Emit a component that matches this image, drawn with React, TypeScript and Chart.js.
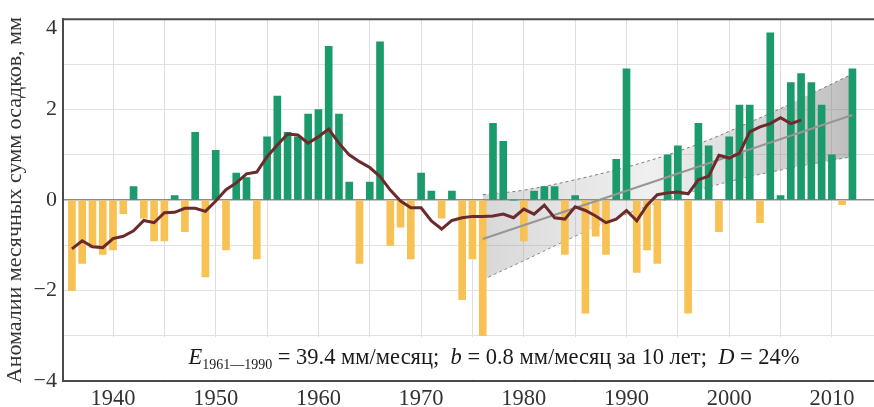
import React, { useEffect, useRef } from "react";
import { Chart, registerables } from "chart.js";

Chart.register(...registerables);

const years = [
  1936, 1937, 1938, 1939, 1940, 1941, 1942, 1943, 1944, 1945, 1946, 1947, 1948, 1949,
  1950, 1951, 1952, 1953, 1954, 1955, 1956, 1957, 1958, 1959, 1960, 1961, 1962, 1963,
  1964, 1965, 1966, 1967, 1968, 1969, 1970, 1971, 1972, 1973, 1974, 1975, 1976, 1977,
  1978, 1979, 1980, 1981, 1982, 1983, 1984, 1985, 1986, 1987, 1988, 1989, 1990, 1991,
  1992, 1993, 1994, 1995, 1996, 1997, 1998, 1999, 2000, 2001, 2002, 2003, 2004, 2005,
  2006, 2007, 2008, 2009, 2010, 2011, 2012,
];

const anomalies = [
  -2.0, -1.4, -1.05, -1.2, -1.1, -0.3, 0.3, -0.4, -0.9, -0.9, 0.1, -0.7, 1.5, -1.7,
  1.1, -1.1, 0.6, 0.5, -1.3, 1.4, 2.3, 1.5, 1.4, 1.9, 2.0, 3.4, 1.9, 0.4,
  -1.4, 0.4, 3.5, -1.0, -0.6, -1.3, 0.6, 0.2, -0.4, 0.2, -2.2, -1.3, -3.0, 1.7,
  1.3, 0.0, -0.9, 0.2, 0.3, 0.3, -1.2, 0.1, -2.5, -0.8, -1.2, 0.9, 2.9, -1.6,
  -1.1, -1.4, 1.0, 1.2, -2.5, 1.7, 1.2, -0.7, 1.4, 2.1, 2.1, -0.5, 3.7, 0.1,
  2.6, 2.8, 2.6, 2.1, 1.0, -0.1, 2.9,
];

const maYears = [
  1936, 1937, 1938, 1939, 1940, 1941, 1942, 1943, 1944, 1945, 1946, 1947, 1948, 1949,
  1950, 1951, 1952, 1953, 1954, 1955, 1956, 1957, 1958, 1959, 1960, 1961, 1962, 1963,
  1964, 1965, 1966, 1967, 1968, 1969, 1970, 1971, 1972, 1973, 1974, 1975, 1976, 1977,
  1978, 1979, 1980, 1981, 1982, 1983, 1984, 1985, 1986, 1987, 1988, 1989, 1990, 1991,
  1992, 1993, 1994, 1995, 1996, 1997, 1998, 1999, 2000, 2001, 2002, 2003, 2004, 2005,
  2006, 2007,
];

const maValues = [
  -1.08, -0.9, -1.03, -1.05, -0.85, -0.8, -0.68, -0.45, -0.5, -0.28, -0.27, -0.18, -0.18, -0.25,
  -0.02, 0.23, 0.38, 0.58, 0.62, 0.96, 1.22, 1.46, 1.44, 1.26, 1.4, 1.57, 1.26, 1.0,
  0.85, 0.72, 0.52, 0.22, -0.02, -0.17, -0.17, -0.46, -0.64, -0.45, -0.39, -0.36, -0.36, -0.35,
  -0.31, -0.39, -0.2, -0.31, -0.11, -0.39, -0.42, -0.15, -0.23, -0.35, -0.5, -0.42, -0.23, -0.46,
  -0.11, 0.12, 0.16, 0.18, 0.14, 0.45, 0.53, 0.99, 0.93, 1.04, 1.51, 1.62, 1.69, 1.82,
  1.69, 1.77,
];

const trendYears = [1976, 2012];
const trendValues = [-0.86, 1.88];

const bandYears = [1976, 1980, 1985, 1990, 1994, 1998, 2002, 2006, 2009, 2012];
const bandUpper = [0.12, 0.22, 0.45, 0.73, 1.0, 1.33, 1.72, 2.13, 2.46, 2.79];
const bandLower = [-1.76, -1.34, -0.8, -0.31, 0.02, 0.29, 0.52, 0.71, 0.84, 0.96];

const xGridYears = [1940, 1945, 1950, 1955, 1960, 1965, 1970, 1975, 1980, 1985, 1990, 1995, 2000, 2005, 2010];
const xLabelYears = [1940, 1950, 1960, 1970, 1980, 1990, 2000, 2010];
const yGridValues = [-4, -3, -2, -1, 0, 1, 2, 3, 4];
const yLabelValues = [-4, -2, 0, 2];
const yTopLabel = 4;

const yTitle = "Аномалии месячных сумм осадков, мм";

const GREEN = "#1b9a6c";
const ORANGE = "#f8c154";
const MA_COLOR = "#6b2a2c";
const FONT = '"Liberation Serif", "Times New Roman", serif';

const pts = (xs: number[], ys: number[]) => xs.map((x, i) => ({ x, y: ys[i] }));

const framePlugin = {
  id: "frame",
  beforeDatasetsDraw(chart: any) {
    const { ctx, chartArea, scales } = chart;
    const yTop = scales.y.getPixelForValue(-3.03);
    ctx.save();
    ctx.fillStyle = "#ffffff";
    ctx.fillRect(chartArea.left + 1.5, yTop, chartArea.right - chartArea.left, chartArea.bottom - 1.5 - yTop);
    ctx.restore();
  },
  afterDraw(chart: any) {
    const { ctx, chartArea, scales } = chart;
    ctx.save();
    ctx.strokeStyle = "#4a4a4a";
    ctx.lineWidth = 2;
    ctx.beginPath();
    ctx.moveTo(chartArea.left, chartArea.top);
    ctx.lineTo(chartArea.right, chartArea.top);
    ctx.stroke();

    // top y label, placed just below the frame like the reference
    ctx.font = `22px ${FONT}`;
    ctx.fillStyle = "#333";
    ctx.textAlign = "right";
    ctx.textBaseline = "middle";
    ctx.fillText(String(yTopLabel), chartArea.left - 6, scales.y.getPixelForValue(yTopLabel) + 9);

    // annotation text
    const parts: { t: string; f: string; dy: number }[] = [
      { t: "E", f: `italic 22.5px ${FONT}`, dy: 0 },
      { t: "1961—1990", f: `14px ${FONT}`, dy: 5 },
      { t: " = 39.4 мм/месяц;  ", f: `22.5px ${FONT}`, dy: 0 },
      { t: "b", f: `italic 22.5px ${FONT}`, dy: 0 },
      { t: " = 0.8 мм/месяц за 10 лет;  ", f: `22.5px ${FONT}`, dy: 0 },
      { t: "D", f: `italic 22.5px ${FONT}`, dy: 0 },
      { t: " = 24%", f: `22.5px ${FONT}`, dy: 0 },
    ];
    let total = 0;
    const widths = parts.map((p) => {
      ctx.font = p.f;
      const w = ctx.measureText(p.t).width;
      total += w;
      return w;
    });
    let x = 494 - total / 2;
    const baseY = 364;
    ctx.fillStyle = "#1a1a1a";
    ctx.textBaseline = "alphabetic";
    ctx.textAlign = "left";
    parts.forEach((p, i) => {
      ctx.font = p.f;
      ctx.fillText(p.t, x, baseY + p.dy);
      x += widths[i];
    });
    ctx.restore();
  },
};

export default function App() {
  const ref = useRef<HTMLCanvasElement | null>(null);

  useEffect(() => {
    document.body.style.margin = "0";
    const canvas = ref.current;
    if (!canvas) return;

    const bandFill = (c: any) => {
      const chart = c.chart;
      if (!chart.chartArea) return "rgba(150,150,150,0.3)";
      const xs = chart.scales.x;
      const g = chart.ctx.createLinearGradient(xs.getPixelForValue(1976), 0, xs.getPixelForValue(2012), 0);
      g.addColorStop(0, "rgba(140,140,140,0.34)");
      g.addColorStop(0.45, "rgba(150,150,150,0.15)");
      g.addColorStop(1, "rgba(110,110,110,0.45)");
      return g;
    };

    const chart = new Chart(canvas, {
      type: "bar",
      data: {
        datasets: [
          {
            type: "line",
            data: pts(bandYears, bandUpper),
            borderColor: "#7a7a7a",
            borderWidth: 1,
            borderDash: [3, 3],
            pointRadius: 0,
            tension: 0.35,
            fill: "+1",
            backgroundColor: bandFill,
            order: 5,
          } as any,
          {
            type: "line",
            data: pts(bandYears, bandLower),
            borderColor: "#8a8a8a",
            borderWidth: 1,
            borderDash: [3, 3],
            pointRadius: 0,
            tension: 0.35,
            fill: false,
            order: 6,
          } as any,
          {
            type: "bar",
            data: pts(years, anomalies),
            backgroundColor: anomalies.map((v) => (v >= 0 ? GREEN : ORANGE)),
            barThickness: 7,
            borderWidth: 0,
            order: 3,
          } as any,
          {
            type: "line",
            data: pts(trendYears, trendValues),
            borderColor: "#969696",
            borderWidth: 2.2,
            pointRadius: 0,
            fill: false,
            order: 2,
          } as any,
          {
            type: "line",
            data: pts(maYears, maValues),
            borderColor: MA_COLOR,
            borderWidth: 3,
            pointRadius: 0,
            tension: 0,
            fill: false,
            order: 1,
          } as any,
        ],
      },
      options: {
        animation: false,
        responsive: false,
        maintainAspectRatio: false,
        layout: { padding: { top: 16, right: 0, left: 0, bottom: 0 } },
        plugins: {
          legend: { display: false },
          tooltip: { enabled: false },
        },
        scales: {
          x: {
            type: "linear",
            min: 1935.13,
            max: 2014.1,
            offset: false,
            afterFit: (s: any) => {
              s.height = 26;
            },
            afterBuildTicks: (s: any) => {
              s.ticks = xGridYears.map((v) => ({ value: v }));
            },
            grid: { color: "#dedede", lineWidth: 1, drawTicks: false, offset: false },
            border: { display: true, color: "#4a4a4a", width: 2 },
            ticks: {
              padding: 5,
              color: "#333",
              font: { family: FONT, size: 22.5 },
              maxRotation: 0,
              autoSkip: false,
              callback: (v: any) => (xLabelYears.includes(Number(v)) ? String(v) : ""),
            },
          },
          y: {
            type: "linear",
            min: -4,
            max: 4,
            afterFit: (s: any) => {
              s.width = 63;
            },
            afterBuildTicks: (s: any) => {
              s.ticks = yGridValues.map((v) => ({ value: v }));
            },
            grid: {
              color: (c: any) => (c.tick && c.tick.value === 0 ? "#8c8c8c" : "#e2e2e2"),
              lineWidth: (c: any) => (c.tick && c.tick.value === 0 ? 1.6 : 1),
              drawTicks: false,
            },
            border: { display: true, color: "#4a4a4a", width: 2 },
            ticks: {
              padding: 6,
              color: "#333",
              font: { family: FONT, size: 22 },
              autoSkip: false,
              callback: (v: any) => {
                const n = Number(v);
                if (!yLabelValues.includes(n)) return "";
                return n < 0 ? "−" + Math.abs(n) : String(n);
              },
            },
            title: {
              display: true,
              text: yTitle,
              color: "#333",
              font: { family: FONT, size: 22 },
              padding: { top: 2, bottom: 0 },
            },
          },
        },
      },
      plugins: [framePlugin],
    });

    return () => chart.destroy();
  }, []);

  return (
    <div style={{ width: 874, height: 407 }}>
      <canvas ref={ref} width={874} height={407} style={{ width: 874, height: 407, display: "block" }} />
    </div>
  );
}
